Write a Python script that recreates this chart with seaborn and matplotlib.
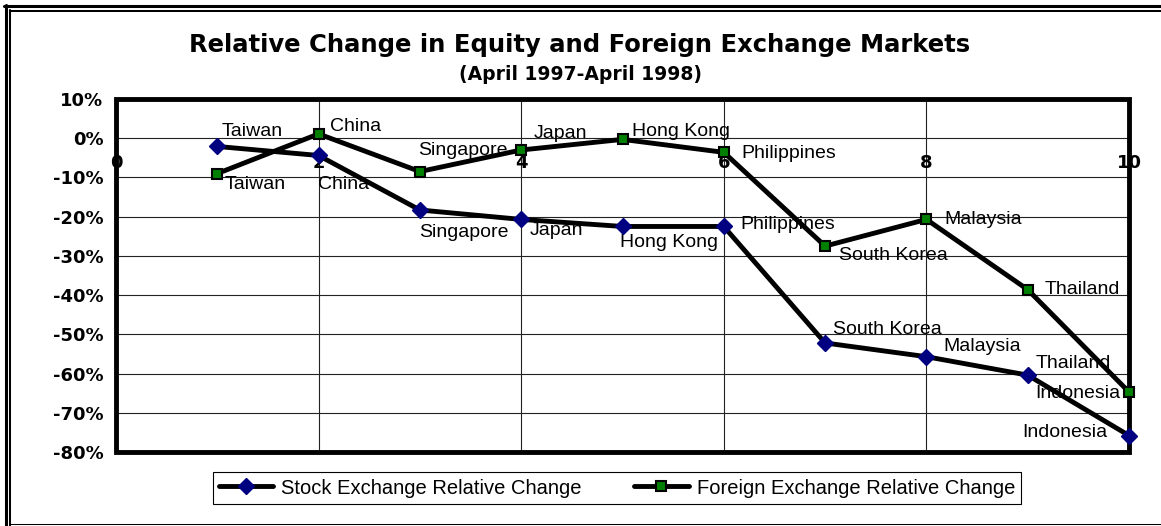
#================================匯入函數===============================
import matplotlib
matplotlib.use("Agg")
import matplotlib.pyplot as plt
from matplotlib.lines import Line2D
from matplotlib.patches import Rectangle
import seaborn as sns
import pandas as pd
#======================================================================

#================================資料===============================
positions = [1, 2, 3, 4, 5, 6, 7, 8, 9, 10]
countries = ["Taiwan", "China", "Singapore", "Japan", "Hong Kong",
             "Philippines", "South Korea", "Malaysia", "Thailand", "Indonesia"]
stock_change = [-2.1, -4.4, -18.3, -20.7, -22.5, -22.5, -52.2, -55.7, -60.4, -75.8]  # %
fx_change = [-9.0, 1.1, -8.5, -3.0, -0.3, -3.6, -27.5, -20.7, -38.6, -64.7]          # %
y_ticks = [10, 0, -10, -20, -30, -40, -50, -60, -70, -80]
x_ticks = [0, 2, 4, 6, 8, 10]

title = "Relative Change in Equity and Foreign Exchange Markets"
subtitle = "(April 1997-April 1998)"
stock_name = "Stock Exchange Relative Change"
fx_name = "Foreign Exchange Relative Change"
#======================================================================

# 標籤位置 (ha, dx, dy)  像素, dy 向下為正
stock_offsets = [("left", 4, -15), ("left", -1, 29), ("left", -1, 23), ("left", 8, 11),
                 ("left", -2, 16), ("left", 17, -2), ("left", 8, -13), ("left", 17, -10),
                 ("left", 8, -12), ("right", -22, -3)]
fx_offsets = [("left", 7, 11), ("left", 11, -7), ("left", -2, -21), ("left", 12, -16),
              ("left", 9, -8), ("left", 18, 1), ("left", 14, 9), ("left", 18, 0),
              ("left", 17, 0), ("right", -9, 2)]

sns.set_style("white")
plt.rcParams['font.family'] = ['Liberation Sans', 'DejaVu Sans']
for k in ["text.color", "axes.labelcolor", "xtick.color", "ytick.color"]:
    plt.rcParams[k] = "black"

W, H = 1161, 526
def fx_(x):
    return x / W
def fy(y):
    return 1 - y / H

fig = plt.figure(figsize=(W / 100, H / 100), dpi=100)
ax = fig.add_axes([fx_(116), fy(452), 1013 / W, 353 / H])

df_stock = pd.DataFrame({"pos": positions, "change": stock_change})
df_fx = pd.DataFrame({"pos": positions, "change": fx_change})

#================================畫線===============================
sns.lineplot(data=df_stock, x="pos", y="change", ax=ax, color="black", linewidth=3.5,
             marker="D", markersize=8.5, markerfacecolor="#000080", markeredgecolor="#000080",
             markeredgewidth=1, label=stock_name, errorbar=None, zorder=6, clip_on=False)
sns.lineplot(data=df_fx, x="pos", y="change", ax=ax, color="black", linewidth=3.5,
             marker="s", markersize=7, markerfacecolor="#008000", markeredgecolor="black",
             markeredgewidth=1.5, label=fx_name, errorbar=None, zorder=6, clip_on=False)

# 資料標籤
for x, y, name, (ha, dx, dy) in zip(positions, stock_change, countries, stock_offsets):
    ax.annotate(name, (x, y), xytext=(dx, -dy), textcoords="offset pixels",
                ha=ha, va="center", fontsize=14, zorder=4)
for x, y, name, (ha, dx, dy) in zip(positions, fx_change, countries, fx_offsets):
    ax.annotate(name, (x, y), xytext=(dx, -dy), textcoords="offset pixels",
                ha=ha, va="center", fontsize=14, zorder=4)
#======================================================================

#================================座標軸===============================
ax.spines["bottom"].set_position(("data", 0))  # x 軸在 0% 上 (要先設定, 會重設刻度)
for s in ax.spines.values():
    s.set_visible(False)
ax.set_xlim(0, 10)
ax.set_ylim(-80, 10)
ax.set_xticks(x_ticks)
ax.set_xticklabels([str(v) for v in x_ticks], fontsize=13, fontweight="bold", family="DejaVu Sans")
ax.set_yticks(y_ticks)
ax.set_yticklabels([f"{v}%" for v in y_ticks], fontsize=13, fontweight="bold", family="DejaVu Sans")
ax.set_xlabel("")
ax.set_ylabel("")
ax.tick_params(axis="x", length=0, pad=11)
ax.tick_params(axis="y", length=0, pad=9)
ax.set_axisbelow(True)
ax.yaxis.grid(True, color="#222222", linewidth=0.8)
ax.xaxis.grid(True, color="#222222", linewidth=0.8)
ax.add_patch(Rectangle((0, 0), 1, 1, transform=ax.transAxes, fill=False,
                       edgecolor="black", linewidth=3.5, clip_on=False, zorder=5))

leg = ax.legend(loc="center", bbox_to_anchor=(fx_(617), fy(488)), bbox_transform=fig.transFigure,
                ncol=2, frameon=True, fancybox=False, edgecolor="black", framealpha=1,
                fontsize=14.5, handlelength=2.7, handletextpad=0.4, columnspacing=2.6,
                borderpad=0.3, borderaxespad=0)
leg.get_frame().set_linewidth(0.8)
#======================================================================

#================================標題與外框===============================
fig.text(0.4996, fy(51.7), title, ha="center", va="baseline", fontsize=17.5,
         fontweight="bold", family="DejaVu Sans")
fig.text(0.4996, fy(80), subtitle, ha="center", va="baseline", fontsize=13.5,
         fontweight="bold", family="DejaVu Sans")

border = [((4, 1161), (6, 6), 2.2), ((9.5, 1161), (11, 11), 1.45),
          ((5.5, 5.5), (4.5, 526), 2.2), ((10, 10), (10, 526), 1.45),
          ((10, 1161), (523.5, 523.5), 0.75)]
for xs, ys, lw in border:
    fig.add_artist(Line2D([fx_(v) for v in xs], [fy(v) for v in ys], color="black",
                          linewidth=lw, transform=fig.transFigure))
#======================================================================

plt.savefig("out.png", dpi=100)
plt.close()
